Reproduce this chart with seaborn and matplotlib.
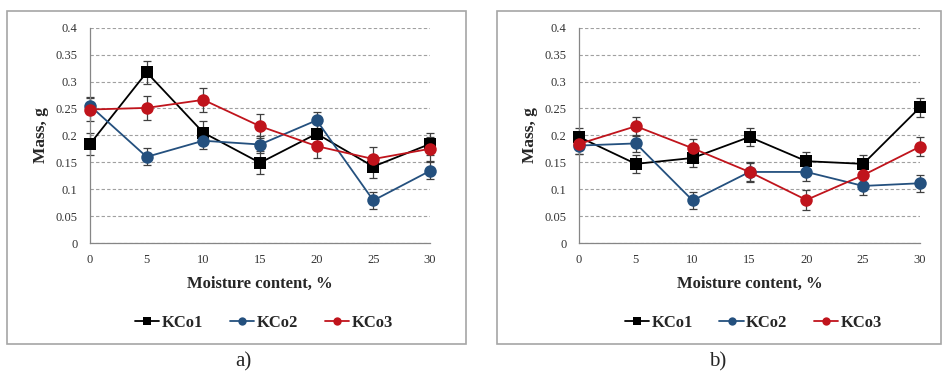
import numpy as np
import pandas as pd
import seaborn as sns
import matplotlib
matplotlib.use("Agg")
import matplotlib.pyplot as plt
from matplotlib.lines import Line2D
from matplotlib.patches import Rectangle

moisture = [0, 5, 10, 15, 20, 25, 30]
series_names = ["KCo1", "KCo2", "KCo3"]

# panel a)
a_kco1 = [0.184, 0.317, 0.205, 0.149, 0.203, 0.142, 0.184]
a_kco2 = [0.255, 0.160, 0.190, 0.183, 0.228, 0.079, 0.134]
a_kco3 = [0.248, 0.251, 0.266, 0.217, 0.180, 0.156, 0.175]
a_err = [0.021, 0.016, 0.022]

# panel b)
b_kco1 = [0.197, 0.147, 0.158, 0.197, 0.152, 0.147, 0.252]
b_kco2 = [0.181, 0.185, 0.079, 0.132, 0.132, 0.106, 0.111]
b_kco3 = [0.184, 0.217, 0.176, 0.132, 0.080, 0.126, 0.179]
b_err = [0.017, 0.016, 0.018]

yticks = [0, 0.05, 0.1, 0.15, 0.2, 0.25, 0.3, 0.35, 0.4]
ytick_labels = ["0", "0.05", "0.1", "0.15", "0.2", "0.25", "0.3", "0.35", "0.4"]
xticks = [0, 5, 10, 15, 20, 25, 30]

colors = {"KCo1": "#000000", "KCo2": "#24507E", "KCo3": "#C0141C"}
markers = {"KCo1": "s", "KCo2": "o", "KCo3": "o"}

sns.set_style("white")
plt.rcParams["font.family"] = ["Liberation Serif", "DejaVu Serif"]

W, H = 947, 372
fig = plt.figure(figsize=(W / 100, H / 100), dpi=100)


def make_df(s1, s2, s3, errs):
    rows = []
    for name, vals, e in zip(series_names, [s1, s2, s3], errs):
        for x, v in zip(moisture, vals):
            rows.append({"moisture": x, "mass": v, "series": name, "err": e})
    return pd.DataFrame(rows)


def px_rect(x0, y0, x1, y1):
    return [x0 / W, 1 - y1 / H, (x1 - x0) / W, (y1 - y0) / H]


panels = [
    (make_df(a_kco1, a_kco2, a_kco3, a_err), (90, 27.7, 430, 243), (7, 11, 466, 344), "a)", 243),
    (make_df(b_kco1, b_kco2, b_kco3, b_err), (579, 27.7, 920, 243), (497, 11, 941, 344), "b)", 718),
]

for df, axpx, boxpx, lab, labx in panels:
    # border box
    bx0, by0, bx1, by1 = boxpx
    fig.patches.append(Rectangle((bx0 / W, 1 - by1 / H), (bx1 - bx0) / W, (by1 - by0) / H,
                                 transform=fig.transFigure, fill=False,
                                 edgecolor="#A6A6A6", linewidth=1.2, zorder=0))
    ax = fig.add_axes(px_rect(*axpx))
    ax.set_facecolor("none")
    for name in series_names:
        d = df[df.series == name]
        ax.errorbar(d.moisture, d.mass, yerr=d.err, fmt="none", ecolor="#404040",
                    elinewidth=0.9, capsize=3, capthick=0.9, zorder=2)
    sns.lineplot(data=df, x="moisture", y="mass", hue="series", style="series",
                 palette=colors, markers=markers, dashes=False, ax=ax,
                 linewidth=1.3, markersize=9, markeredgewidth=0, legend=False, zorder=3)
    ax.set_xlim(0, 30)
    ax.set_ylim(0, 0.4)
    ax.set_xticks(xticks)
    ax.set_xticklabels([str(x) for x in xticks], fontsize=9)
    ax.set_yticks(yticks)
    ax.set_yticklabels(ytick_labels, fontsize=9)
    ax.yaxis.grid(True, linestyle=(0, (3, 2)), color="#A0A0A0", linewidth=0.8)
    ax.xaxis.grid(False)
    for s in ["top", "right"]:
        ax.spines[s].set_visible(False)
    for s in ["left", "bottom"]:
        ax.spines[s].set_color("#868686")
        ax.spines[s].set_linewidth(0.9)
    ax.spines["bottom"].set_zorder(1)
    ax.tick_params(axis="both", which="both", colors="#868686", labelcolor="#333333",
                   length=5, width=0.9)
    ax.tick_params(axis="x", direction="inout", length=8, pad=4)
    ax.tick_params(axis="y", direction="out", length=5, pad=4)
    ax.set_xlabel("Moisture content, %", fontsize=12, fontweight="bold", labelpad=7)
    ax.set_ylabel("Mass, g", fontsize=12.5, fontweight="bold", labelpad=5)
    for ln in ax.lines:
        ln.set_clip_on(False)
    for c in ax.collections:
        c.set_clip_on(False)

    handles = [Line2D([0], [0], color=colors[n], marker=markers[n], markersize=6,
                      linewidth=1.3, markeredgewidth=0) for n in series_names]
    cx = (axpx[0] + axpx[2]) / 2 + 4
    fig.legend(handles, series_names, loc="center", bbox_to_anchor=(cx / W, 1 - 323 / H),
               ncol=3, frameon=False, handlelength=1.45, handletextpad=0.15,
               columnspacing=1.6, prop={"weight": "bold", "size": 12})
    fig.text(labx / W, 1 - 362 / H, lab, ha="center", va="center", fontsize=15)

fig.savefig("out.png", dpi=100)
